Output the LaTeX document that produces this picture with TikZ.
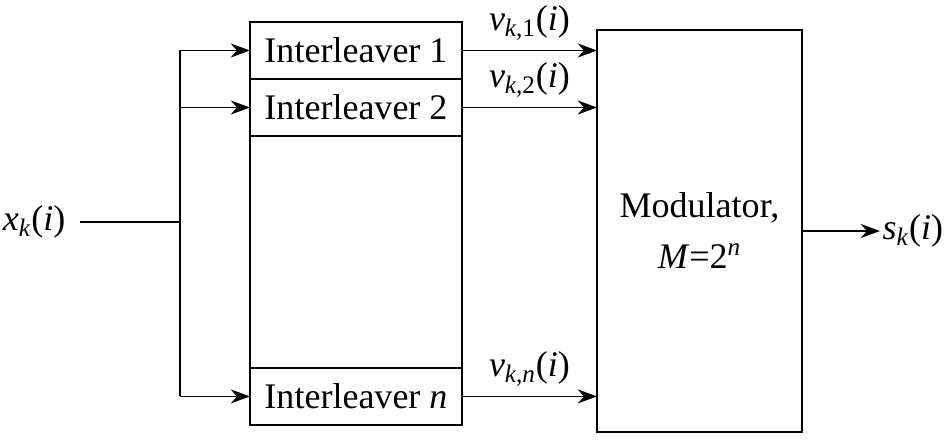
\documentclass[tikz,border=0pt]{standalone}
\usepackage{fontspec}
\setmainfont{Liberation Serif}
\newfontfamily\serifa{Liberation Serif}
\usetikzlibrary{
    positioning,
    calc,
    arrows.meta
}
\newcommand{\sig}[3]{\textit{#1}\textsubscript{\textit{#2}#3}(\textit{i})}

\begin{document}
\begin{tikzpicture}[
        x=0.02cm, y=-0.02cm,
        font=\serifa\fontsize{20.5}{25}\selectfont,
        line width=1pt,
        bloco/.style={draw, inner sep=0pt, outer sep=0pt},
        linha/.style={inner sep=0pt, outer sep=0pt, minimum width=4.24cm, minimum height=1.14cm},
        seta/.style={-{Stealth[length=11pt,width=8pt]}}
    ]
    \useasboundingbox (0,0) rectangle (945,446);

    % interleavers
    \node[bloco, minimum width=4.24cm, minimum height=8.06cm,
          anchor=north west] (ilv) at (250,22) {};
    \node[linha, anchor=north] (il1) at (ilv.north) {Interleaver 1};
    \node[linha, below=0pt of il1] (il2) {Interleaver 2};
    \node[linha, anchor=south] (iln) at (ilv.south) {Interleaver \textit{n}};
    \draw (il1.south west) -- (il1.south east);
    \draw (il2.south west) -- (il2.south east);
    \draw (iln.north west) -- (iln.north east);

    % modulador
    \node[bloco, minimum width=4.1cm, minimum height=8.04cm,
          align=center, anchor=north west] (mod) at (597,30)
          {Modulator,\\[4pt] \textit{M}=2\textsuperscript{\textit{n}}};

    % entrada
    \node[anchor=east, inner sep=1pt] (xk) at (68,222) {\sig{x}{k}{}};
    \coordinate (bus) at (180,222);
    \draw ([xshift=7pt]xk.east) -- (bus);
    \draw (il1.west -| bus) -- (iln.west -| bus);
    \foreach \il in {il1,il2,iln}
        \draw[seta] (\il.west -| bus) -- (\il.west);

    % saidas
    \draw[seta] (il1.east) -- node[above=2pt] {\sig{v}{k}{,1}} (il1.east -| mod.west);
    \draw[seta] (il2.east) -- node[above=2pt] {\sig{v}{k}{,2}} (il2.east -| mod.west);
    \draw[seta] (iln.east) -- node[above=2pt] {\sig{v}{k}{,\textit{n}}} (iln.east -| mod.west);

    \node[anchor=west, inner sep=1pt] (sk) at (880,231) {\sig{s}{k}{}};
    \draw[seta] (mod.east) -- (sk.west);
\end{tikzpicture}
\end{document}
